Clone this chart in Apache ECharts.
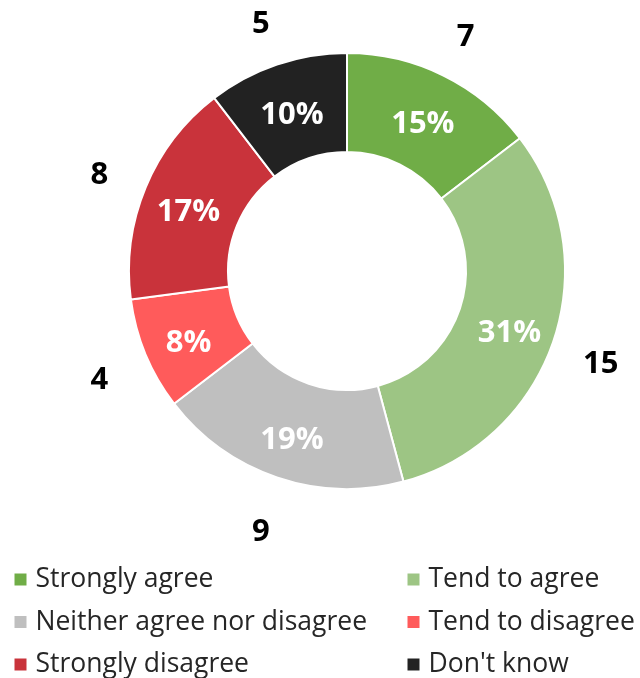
<!DOCTYPE html>
<html>
<head>
<meta charset="utf-8">
<script src="https://cdn.jsdelivr.net/npm/echarts@6/dist/echarts.min.js"></script>
<style>html,body{margin:0;padding:0;background:#fff;}#c{width:640px;height:678px;}</style>
</head>
<body>
<div id="c"></div>
<script>
const categories = ['Strongly agree', 'Tend to agree', 'Neither agree nor disagree', 'Tend to disagree', 'Strongly disagree', "Don't know"];
const counts = [7, 15, 9, 4, 8, 5];
const colors = ['#70AD47', '#9DC584', '#BFBFBF', '#FF5B5B', '#C9333B', '#222222'];

const total = counts.reduce((a, b) => a + b, 0);
const data = categories.map((name, i) => ({ name, value: counts[i], itemStyle: { color: colors[i] } }));
const FONT = '"Open Sans", "Noto Sans", sans-serif';
const CX = 347, CY = 271, LABEL_DY = 7;

const chart = echarts.init(document.getElementById('c'), null, { renderer: 'canvas' });
const legendCommon = {
  orient: 'vertical',
  icon: 'rect',
  itemWidth: 14,
  itemHeight: 14,
  itemGap: 15.5,
  top: 566,
  height: 140,
  padding: 0,
  textStyle: { fontSize: 26.5, color: '#262626', fontFamily: FONT, lineHeight: 26, padding: [0, 0, 0, 3] },
  selectedMode: false
};
function labelSeries(radius, formatter, color) {
  return {
    type: 'pie',
    center: [CX, CY + LABEL_DY],
    radius: radius,
    startAngle: 90,
    clockwise: true,
    silent: true,
    avoidLabelOverlap: false,
    itemStyle: { color: 'rgba(0,0,0,0)', borderWidth: 0 },
    label: {
      position: 'inside',
      formatter: formatter,
      color: color,
      fontSize: 31,
      fontWeight: 'bold',
      fontFamily: FONT
    },
    labelLine: { show: false },
    emphasis: { disabled: true },
    tooltip: { show: false },
    data: categories.map((name, i) => ({ name: name + ' ', value: counts[i] }))
  };
}
chart.setOption({
  animation: false,
  legend: [
    Object.assign({}, legendCommon, { left: 12.5, data: [categories[0], categories[2], categories[4]] }),
    Object.assign({}, legendCommon, { left: 405.5, data: [categories[1], categories[3], categories[5]] })
  ],
  series: [
    {
      type: 'pie',
      center: [CX, CY],
      radius: [119, 218],
      startAngle: 90,
      clockwise: true,
      avoidLabelOverlap: false,
      itemStyle: { borderColor: '#fff', borderWidth: 2 },
      label: { show: false },
      labelLine: { show: false },
      emphasis: { disabled: true },
      data: data
    },
    labelSeries([119, 218], p => Math.round(p.value / total * 100) + '%', '#fff'),
    labelSeries([255, 275], p => String(p.value), '#000')
  ]
});
</script>
</body>
</html>
